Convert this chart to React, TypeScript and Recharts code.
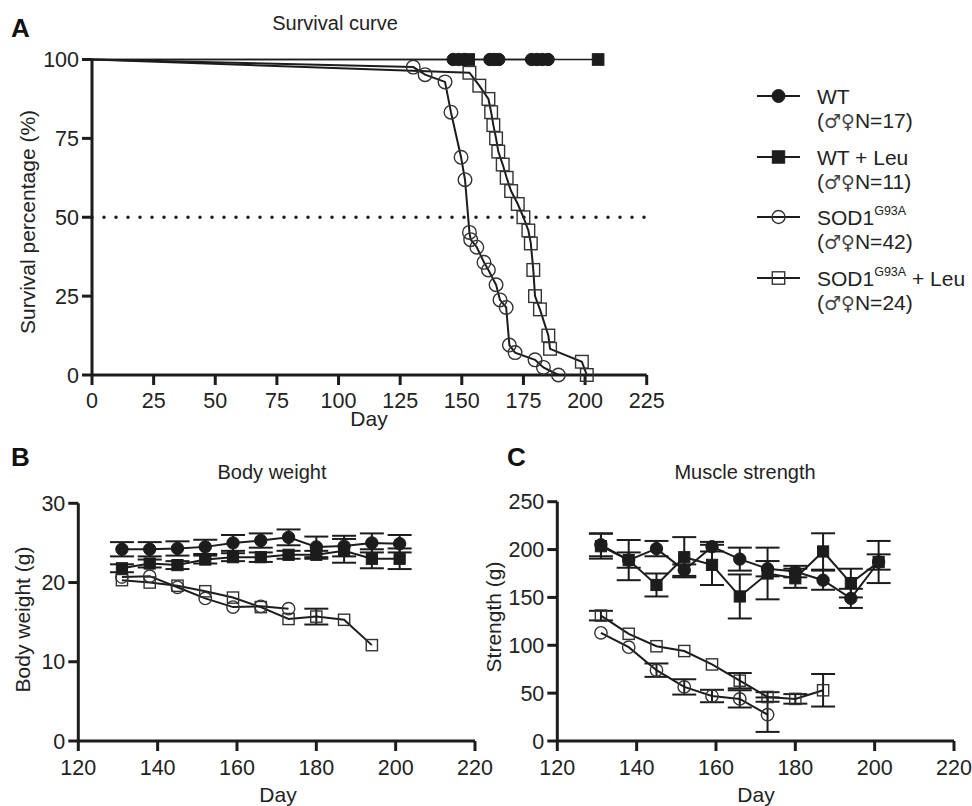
import React from 'react';
import { LineChart, Line, XAxis, YAxis, ErrorBar, ReferenceLine } from 'recharts';

const FONT = '"Liberation Sans", Arial, Helvetica, sans-serif';
const INK = '#1c1c1c';
const TXT = '#222222';

// ---------- Panel A: survival ----------
const survXTicks = [0, 25, 50, 75, 100, 125, 150, 175, 200, 225];
const survYTicks = [0, 25, 50, 75, 100];

const wtDays = [0, 146.5, 148.7, 151, 161.4, 163.2, 165, 178.3, 180.5, 182.7, 185];
const wtSurv = [100, 100, 100, 100, 100, 100, 100, 100, 100, 100, 100];

const wtLeuDays = [0, 152.8, 205.3];
const wtLeuSurv = [100, 100, 100];

const sodDays = [0, 130.3, 135.1, 143.2, 145.6, 149.7, 151.3, 153.1, 153.6, 156.1, 159.0, 160.8, 163.9, 165.5, 168.0, 169.3, 171.6, 179.7, 183.1, 189.2];
const sodSurv = [100, 97.6, 95.2, 92.9, 83.3, 69.0, 61.9, 45.2, 42.9, 40.5, 35.7, 33.3, 28.6, 23.8, 21.4, 9.5, 7.1, 4.8, 2.4, 0];

const sodLeuDays = [0, 153.1, 157.1, 160.8, 161.9, 162.8, 163.9, 164.8, 166.6, 168.2, 170.0, 172.7, 175.0, 177.0, 178.0, 179.0, 179.7, 181.7, 185.1, 185.8, 198.7, 200.7];
const sodLeuSurv = [100, 95.8, 91.7, 87.5, 83.3, 79.2, 75.0, 70.8, 66.7, 62.5, 58.3, 54.2, 50.0, 45.8, 41.7, 33.3, 25.0, 20.8, 12.5, 8.3, 4.2, 0];

// ---------- Panels B & C ----------
const dayTicks = [120, 140, 160, 180, 200, 220];
const weightTicks = [0, 10, 20, 30];
const strengthTicks = [0, 50, 100, 150, 200, 250];

const weekDays = [131, 138, 145, 152, 159, 166, 173, 180, 187, 194, 201];

const bwWT = [24.2, 24.2, 24.3, 24.5, 25.0, 25.3, 25.7, 24.5, 24.6, 25.0, 24.9];
const bwWTErr = [0.9, 0.9, 0.9, 0.9, 1.0, 0.9, 1.0, 1.3, 1.3, 1.2, 1.1];
const bwWTLeu = [21.8, 22.4, 22.2, 22.9, 23.2, 23.2, 23.5, 23.5, 24.0, 23.0, 23.0];
const bwWTLeuErr = [0.5, 0.5, 0.5, 0.5, 0.5, 0.6, 0.5, 0.5, 1.5, 1.2, 1.3];
const bwSod = [20.7, 20.8, 19.4, 18.0, 16.9, 17.0, 16.7];
const bwSodErr = [0, 0, 0, 0, 0, 0, 0];
const bwSodLeu = [20.3, 20.0, 19.6, 18.9, 18.1, 16.9, 15.4, 15.7, 15.3, 12.1];
const bwSodLeuErr = [0, 0, 0, 0, 0, 0, 0, 1.0, 0, 0];

const stWT = [205, 189, 201, 178.5, 203, 190, 180, 177, 168, 149, 187];
const stWTErr = [12, 8, 8, 6, 5, 12, 8, 6, 10, 10, 8];
const stWTLeu = [203.5, 189, 163, 192, 184, 151, 175, 170, 198, 165, 187];
const stWTLeuErr = [13, 21, 12, 21, 21, 23, 27, 10, 19, 15, 22];
const stSod = [113, 98, 74, 56.5, 47, 44, 27.5];
const stSodErr = [0, 0, 7, 8, 6.5, 9, 18];
const stSodLeu = [131, 112, 99, 94, 80, 63, 46, 44, 53];
const stSodLeuErr = [5, 0, 0, 0, 0, 8, 5, 5, 17];

const zip = (xs: number[], ys: number[], es?: number[]) =>
  ys.map((y, i) => ({ x: xs[i], y, e: es ? es[i] : 0 }));

type Kind = 'fc' | 'fs' | 'oc' | 'os';

function drawMarker(kind: Kind, cx: number, cy: number, s: number, key: any) {
  if (kind === 'fc') return <circle key={key} cx={cx} cy={cy} r={s} fill={INK} stroke={INK} strokeWidth={1} />;
  if (kind === 'oc') return <circle key={key} cx={cx} cy={cy} r={s} fill="none" stroke="#333" strokeWidth={1.4} />;
  if (kind === 'fs') return <rect key={key} x={cx - s} y={cy - s} width={2 * s} height={2 * s} fill={INK} stroke={INK} strokeWidth={1} />;
  return <rect key={key} x={cx - s} y={cy - s} width={2 * s} height={2 * s} fill="none" stroke="#333" strokeWidth={1.4} />;
}

const dotFn = (kind: Kind, s: number, skipFirst = false) => (p: any) => {
  const { cx, cy, index } = p;
  if (cx == null || cy == null || (skipFirst && index === 0)) return <g key={`d${index}`} />;
  return drawMarker(kind, cx, cy, s, `d${index}`);
};

const tickStyle = { fill: TXT, fontSize: 21.5, fontFamily: FONT };
const axisLineStyle = { stroke: INK, strokeWidth: 3 };

function SurvivalChart() {
  return (
    <LineChart width={972} height={440} margin={{ top: 59.5, left: 32, right: 325.3, bottom: 0 }}>
      <XAxis type="number" dataKey="x" domain={[0, 225]} ticks={survXTicks} interval={0}
        axisLine={axisLineStyle} tickLine={axisLineStyle} tickSize={10} tickMargin={8} tick={tickStyle} height={65} />
      <YAxis type="number" dataKey="y" domain={[0, 100]} ticks={survYTicks} interval={0}
        axisLine={axisLineStyle} tickLine={axisLineStyle} tickSize={10} tickMargin={3} tick={tickStyle} width={60} />
      <ReferenceLine y={50} stroke={INK} strokeWidth={3.5} strokeDasharray="0 12" strokeLinecap="round" />
      <Line data={zip(sodDays, sodSurv)} dataKey="y" type="linear" stroke={INK} strokeWidth={2}
        dot={dotFn('oc', 6.8, true)} activeDot={false} isAnimationActive={false} />
      <Line data={zip(sodLeuDays, sodLeuSurv)} dataKey="y" type="linear" stroke={INK} strokeWidth={2}
        dot={dotFn('os', 6.3, true)} activeDot={false} isAnimationActive={false} />
      <Line data={zip(wtDays, wtSurv)} dataKey="y" type="linear" stroke={INK} strokeWidth={1.5}
        dot={dotFn('fc', 6.2, true)} activeDot={false} isAnimationActive={false} />
      <Line data={zip(wtLeuDays, wtLeuSurv)} dataKey="y" type="linear" stroke={INK} strokeWidth={1.5}
        dot={dotFn('fs', 5.8, true)} activeDot={false} isAnimationActive={false} />
    </LineChart>
  );
}

type Series = { data: { x: number; y: number; e: number }[]; kind: Kind };

function WeeklyChart(props: {
  width: number; height: number; margin: any; yWidth: number; yDomain: [number, number];
  yTicks: number[]; series: Series[];
}) {
  const { width, height, margin, yWidth, yDomain, yTicks, series } = props;
  return (
    <LineChart width={width} height={height} margin={margin}>
      <XAxis type="number" dataKey="x" domain={[120, 220]} ticks={dayTicks} interval={0}
        axisLine={axisLineStyle} tickLine={axisLineStyle} tickSize={10} tickMargin={9} tick={tickStyle} height={65} />
      <YAxis type="number" dataKey="y" domain={yDomain} ticks={yTicks} interval={0}
        axisLine={axisLineStyle} tickLine={axisLineStyle} tickSize={10} tickMargin={3} tick={tickStyle} width={yWidth} />
      {series.map((s, i) => (
        <Line key={i} data={s.data} dataKey="y" type="linear" stroke={INK} strokeWidth={2}
          dot={dotFn(s.kind, s.kind === 'fs' || s.kind === 'os' ? 5.6 : 6.2)} activeDot={false} isAnimationActive={false}>
          <ErrorBar dataKey="e" width={12} stroke={INK} strokeWidth={2} direction="y" />
        </Line>
      ))}
    </LineChart>
  );
}

function LegendSym({ kind, y }: { kind: Kind; y: number }) {
  return (
    <g>
      <line x1={757} x2={800} y1={y} y2={y} stroke={INK} strokeWidth={2} />
      {drawMarker(kind, 778.5, y, kind === 'fc' || kind === 'oc' ? 6.5 : 6.2, 'm')}
    </g>
  );
}

const legendLabels = ['WT', 'WT + Leu', 'SOD1', 'SOD1'];
const legendCounts = ['17', '11', '42', '24'];
const legendKinds: Kind[] = ['fc', 'fs', 'oc', 'os'];
const legendRows = [96, 157, 217, 278];

function Overlay() {
  const t = { fontFamily: FONT, fill: TXT } as const;
  return (
    <svg width={972} height={806} style={{ position: 'absolute', left: 0, top: 0, pointerEvents: 'none' }}>
      <text x={11} y={37} fontSize={26} fontWeight={700} {...t} fill="#111">A</text>
      <text x={335} y={30} fontSize={20} textAnchor="middle" {...t}>Survival curve</text>
      <text transform="translate(35,222) rotate(-90)" fontSize={21} textAnchor="middle" {...t}>Survival percentage (%)</text>
      <text x={369} y={426} fontSize={21} textAnchor="middle" {...t}>Day</text>

      {legendRows.map((y, i) => (
        <g key={i}>
          <LegendSym kind={legendKinds[i]} y={y} />
          <text x={817} y={y + 7.5} fontSize={21} {...t}>
            {legendLabels[i]}
            {i >= 2 ? <tspan fontSize={12.5} dy={-10}>G93A</tspan> : null}
            {i === 3 ? <tspan dy={10}> + Leu</tspan> : null}
          </text>
          <text x={817} y={y + 31.5} fontSize={21} {...t}>
            (<tspan fontFamily='"DejaVu Sans", sans-serif' fontSize={19} fill="#444">♂♀</tspan>N={legendCounts[i]})
          </text>
        </g>
      ))}

      <text x={11} y={466} fontSize={26} fontWeight={700} {...t} fill="#111">B</text>
      <text x={272} y={479} fontSize={20} textAnchor="middle" {...t}>Body weight</text>
      <text transform="translate(30,619.5) rotate(-90)" fontSize={21} textAnchor="middle" {...t}>Body weight (g)</text>
      <text x={278} y={802} fontSize={21} textAnchor="middle" {...t}>Day</text>

      <text x={507} y={466} fontSize={26} fontWeight={700} {...t} fill="#111">C</text>
      <text x={745} y={479} fontSize={20} textAnchor="middle" {...t}>Muscle strength</text>
      <text transform="translate(500.5,617) rotate(-90)" fontSize={21} textAnchor="middle" {...t}>Strength (g)</text>
      <text x={756} y={802} fontSize={21} textAnchor="middle" {...t}>Day</text>
    </svg>
  );
}

export default function App() {
  const bwSeries: Series[] = [
    { data: zip(weekDays, bwSodLeu, bwSodLeuErr), kind: 'os' },
    { data: zip(weekDays, bwSod, bwSodErr), kind: 'oc' },
    { data: zip(weekDays, bwWTLeu, bwWTLeuErr), kind: 'fs' },
    { data: zip(weekDays, bwWT, bwWTErr), kind: 'fc' },
  ];
  const stSeries: Series[] = [
    { data: zip(weekDays, stSodLeu, stSodLeuErr), kind: 'os' },
    { data: zip(weekDays, stSod, stSodErr), kind: 'oc' },
    { data: zip(weekDays, stWT, stWTErr), kind: 'fc' },
    { data: zip(weekDays, stWTLeu, stWTLeuErr), kind: 'fs' },
  ];
  return (
    <div style={{ position: 'absolute', left: 0, top: 0, width: 972, height: 806, background: '#fff', fontFamily: FONT }}>
      <div style={{ position: 'absolute', left: 0, top: 0 }}>
        <SurvivalChart />
      </div>
      <div style={{ position: 'absolute', left: 490, top: 460 }}>
        <WeeklyChart width={482} height={346} margin={{ top: 41.7, left: 12.3, right: 18, bottom: 0 }}
          yWidth={55} yDomain={[0, 250]} yTicks={strengthTicks} series={stSeries} />
      </div>
      <div style={{ position: 'absolute', left: 0, top: 460 }}>
        <WeeklyChart width={500} height={346} margin={{ top: 43.3, left: 28.3, right: 25, bottom: 0 }}
          yWidth={50} yDomain={[0, 30]} yTicks={weightTicks} series={bwSeries} />
      </div>
      <Overlay />
    </div>
  );
}
